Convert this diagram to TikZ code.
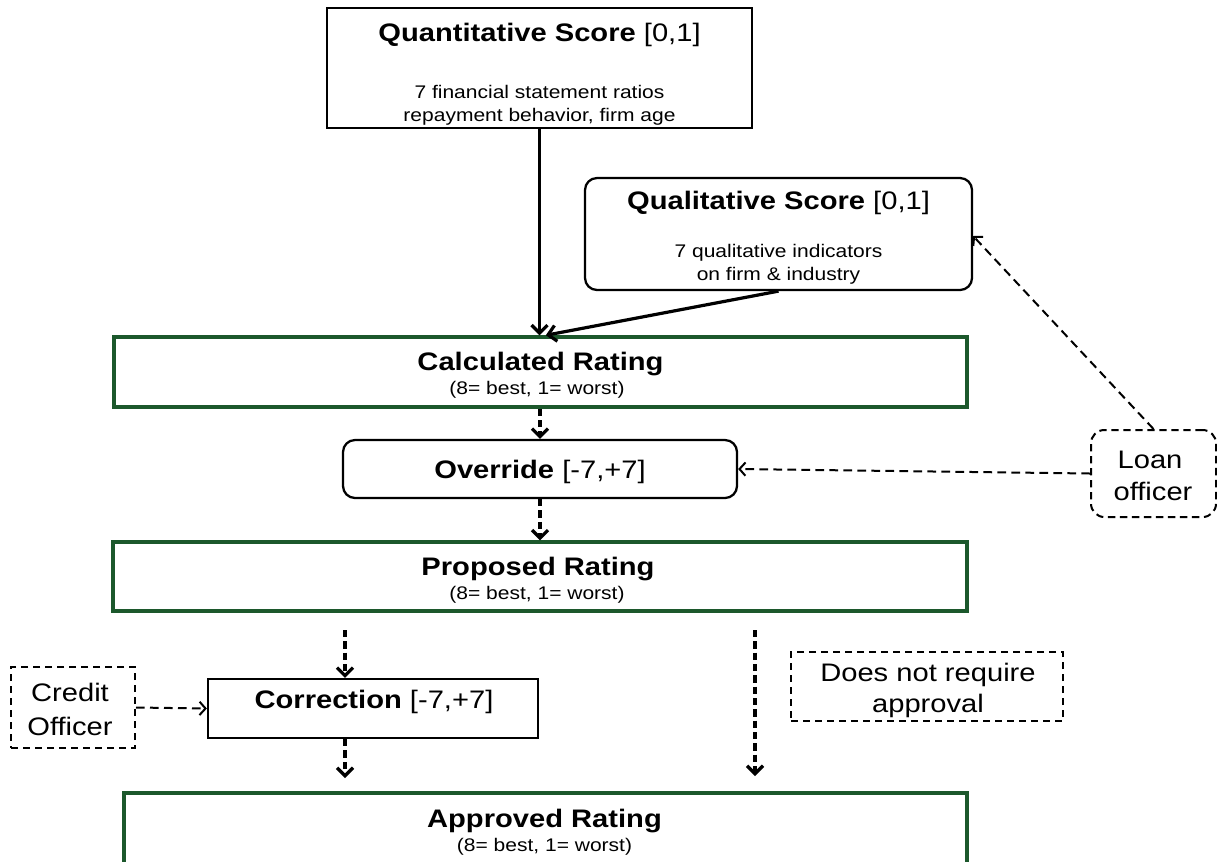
\documentclass[tikz,border=0pt]{standalone}
\usepackage{fontspec}
\setmainfont{Liberation Sans}[FakeStretch=1.15]
\usetikzlibrary{arrows.meta}
\definecolor{boxgreen}{RGB}{28,88,44}
\tikzset{
  bx/.style 2 args={minimum width=#1*0.75pt, minimum height=#2*0.75pt},
  plainbox/.style={draw=black, line width=1.7pt, rectangle, inner sep=0pt},
  rbox/.style={plainbox, rounded corners=9pt},
  gbox/.style={draw=boxgreen, line width=2.6pt, rectangle, inner sep=0pt},
  dbox/.style={draw=black, line width=1.5pt, dash pattern=on 5.5pt off 3.5pt, rectangle, inner sep=0pt},
  txt/.style={anchor=base, inner sep=0pt},
  ttl/.style={txt, font=\fontsize{19}{23}\selectfont},
  subt/.style={txt, font=\fontsize{13.7}{17}\selectfont},
  solidarrow/.style={line width=2.4pt, -{Straight Barb[length=6pt,width=12pt]}},
  dashdown/.style={line width=2.4pt, dash pattern=on 5.5pt off 3pt, -{Straight Barb[length=6pt,width=12pt]}},
  dashside/.style={line width=1.5pt, dash pattern=on 6.5pt off 4pt, -{Straight Barb[length=4.5pt,width=10pt]}},
}
\begin{document}
\begin{tikzpicture}[x=0.75pt,y=-0.75pt]
\useasboundingbox (0,0) rectangle (1217,861);

% Quantitative
\node[plainbox, bx={425}{120}] (quant) at (539.5,68) {};
\node[ttl] (quantT) at (539.5,41) {\textbf{Quantitative Score} [0,1]};
\node[subt] (quantS1) at (539.5,98) {7 financial statement ratios};
\node[subt] (quantS2) at (539.5,121) {repayment behavior, firm age};

% Qualitative
\node[rbox, bx={387}{112}] (qual) at (778.5,234) {};
\node[ttl] (qualT) at (778.5,209) {\textbf{Qualitative Score} [0,1]};
\node[subt] (qualS1) at (778.5,257) {7 qualitative indicators};
\node[subt] (qualS2) at (778.5,280) {on firm \& industry};

% Calculated
\node[gbox, bx={853}{70}] (calc) at (540.5,372) {};
\node[ttl] (calcT) at (540.5,370) {\textbf{Calculated Rating}};
\node[subt] (calcS) at (537,394) {(8= best, 1= worst)};

% Override
\node[rbox, bx={394}{58}] (override) at (540,469) {};
\node[ttl] (overT) at (540,478) {\textbf{Override} [-7,+7]};

% Proposed
\node[gbox, bx={854}{69}] (prop) at (540,576.5) {};
\node[ttl] (propT) at (538,575) {\textbf{Proposed Rating}};
\node[subt] (propS) at (537,599) {(8= best, 1= worst)};

% Correction
\node[plainbox, bx={330}{59}] (corr) at (373,708.5) {};
\node[ttl] (corrT) at (374,708) {\textbf{Correction} [-7,+7]};

% Credit officer
\node[dbox, bx={124}{81}] (credit) at (73,707.5) {};
\node[ttl] (creditT1) at (70,701) {Credit};
\node[ttl] (creditT2) at (70,735) {Officer};

% Does not require approval
\node[dbox, bx={272}{69}] (noappr) at (927,686.5) {};
\node[ttl] (noapprT1) at (928,681) {Does not require};
\node[ttl] (noapprT2) at (928,712) {approval};

% Loan officer
\node[dbox, rounded corners=10pt, bx={125}{87}] (loan) at (1153.5,473.5) {};
\node[ttl] (loanT1) at (1150,468) {Loan};
\node[ttl] (loanT2) at (1153,500) {officer};

% Approved
\node[gbox, bx={843}{80}] (appr) at (545.5,833) {};
\node[ttl] (apprT) at (544.5,827) {\textbf{Approved Rating}};
\node[subt] (apprS) at (544.5,851) {(8= best, 1= worst)};

% free ends
\coordinate (l1) at (345,630);
\coordinate (l3) at (345,778);
\coordinate (r1) at (755,630);
\coordinate (r2) at (755,776);

% connectors
\draw[solidarrow] (quant.south) -- (quant.south |- calc.north);
\draw[solidarrow] (qual.south) -- ([xshift=4pt]calc.north);
\draw[dashdown] (override.north |- calc.south) -- (override.north);
\draw[dashdown] (override.south) -- (override.south |- prop.north);
\draw[dashdown] (l1) -- (l1 |- corr.north);
\draw[dashdown] (l1 |- corr.south) -- (l3);
\draw[dashdown] (r1) -- (r2);
\draw[dashside] (credit.east) -- (corr.west);
\draw[dashside] (loan.west) -- (override.east);
\draw[dashside] (loan.north) -- ([yshift=-1.5pt]qual.east);
\end{tikzpicture}
\end{document}
